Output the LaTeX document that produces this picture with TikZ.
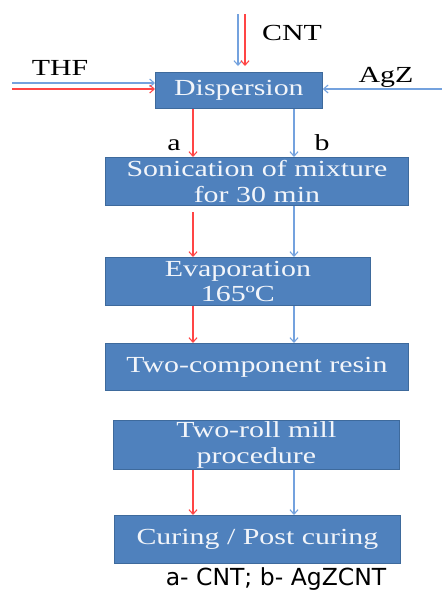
\documentclass[tikz,border=0pt]{standalone}
\usepackage{fontspec}
\setmainfont{Liberation Serif}[FakeStretch=1.3]
\newfontfamily\capfont{DejaVu Sans}
\usetikzlibrary{arrows.meta,calc}
\definecolor{boxfill}{HTML}{4F81BD}
\definecolor{boxedge}{HTML}{3E6A9C}
\definecolor{redline}{HTML}{FF4545}
\definecolor{blueline}{HTML}{74A2DE}
\definecolor{boxtext}{HTML}{F2F5FA}
\begin{document}
\begin{tikzpicture}[x=1pt,y=-1pt,
  box/.style={draw=boxedge, fill=boxfill, line width=0.8pt, text=boxtext,
    font=\fontsize{23}{25.5}\selectfont, align=center, inner sep=0pt, anchor=north west},
  lbl/.style={text=black, font=\fontsize{23}{26}\selectfont, inner sep=0pt, anchor=base},
  rarr/.style={draw=redline, line width=1.1pt, -{Straight Barb[length=4.5pt,width=8pt]}},
  barr/.style={draw=blueline, line width=1.1pt, -{Straight Barb[length=4.5pt,width=8pt]}}]
\useasboundingbox (0,0) rectangle (442,590);
\fill[white] (0,0) rectangle (442,590);
% boxes
\node[box, minimum width=167pt, minimum height=36pt] (disp) at (155,72) {Dispersion};
\node[box, minimum width=303pt, minimum height=48pt] (son) at (105,157) {Sonication of mixture\\for 30 min};
\node[box, minimum width=265pt, minimum height=48pt] (evap) at (105,257) {Evaporation\\165ºC};
\node[box, minimum width=303pt, minimum height=47pt] (resin) at (105,343) {Two-component resin};
\node[box, minimum width=286pt, minimum height=49pt] (mill) at (113,420) {Two-roll mill\\procedure};
\node[box, minimum width=286pt, minimum height=48pt] (cure) at (114,515) {Curing / Post curing};
% labels
\node[lbl] (thf) at (60,75) {THF};
\node[lbl] (cnt) at (292,40) {CNT};
\node[lbl] (agz) at (386,82) {AgZ};
\node[lbl] (la) at (174,150) {a};
\node[lbl] (lb) at (322,150) {b};
\node[inner sep=0pt, anchor=base, font=\capfont\fontsize{23.5}{26}\selectfont] (cap) at (276,585) {a- CNT; b- AgZCNT};
% free ends
\coordinate (rx) at (193,0);
\coordinate (bx) at (294,0);
\coordinate (thfb) at (12,83);
\coordinate (thfr) at (12,89);
\coordinate (agzs) at (442,89);
\coordinate (cntb) at (238,14);
\coordinate (cntbe) at (238,66);
\coordinate (cntr) at (245,14);
\coordinate (cntre) at (245,66);
\coordinate (sonr) at (193,212);
% inputs
\draw[barr] (thfb) -- (thfb -| disp.west);
\draw[rarr] (thfr) -- (thfr -| disp.west);
\draw[barr] (agzs) -- (agzs -| disp.east);
\draw[barr] (cntb) -- (cntbe);
\draw[rarr] (cntr) -- (cntre);
% flow
\draw[rarr] (disp.south -| rx) -- (son.north -| rx);
\draw[barr] (disp.south -| bx) -- (son.north -| bx);
\draw[rarr] (sonr) -- (evap.north -| rx);
\draw[barr] (son.south -| bx) -- (evap.north -| bx);
\draw[rarr] (evap.south -| rx) -- (resin.north -| rx);
\draw[barr] (evap.south -| bx) -- (resin.north -| bx);
\draw[rarr] (mill.south -| rx) -- (cure.north -| rx);
\draw[barr] (mill.south -| bx) -- (cure.north -| bx);
\end{tikzpicture}
\end{document}
